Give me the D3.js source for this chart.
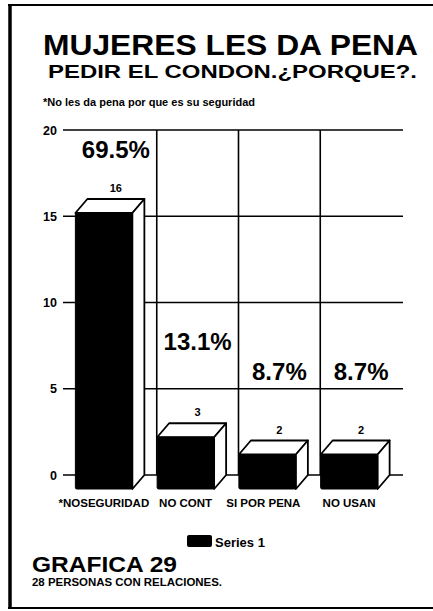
<!DOCTYPE html>
<html>
<head>
<meta charset="utf-8">
<script src="https://cdn.jsdelivr.net/npm/d3@7"></script>
<style>
html,body{margin:0;padding:0;background:#fff;}
svg{display:block;}
text{font-family:"Liberation Sans",Arial,Helvetica,sans-serif;font-weight:bold;fill:#000;}
</style>
</head>
<body>
<svg id="chart" width="433" height="611"></svg>
<script>
// ---- data ----
const categories = ["*NOSEGURIDAD", "NO CONT", "SI POR PENA", "NO USAN"];
const values = [16, 3, 2, 2];
const percentLabels = ["69.5%", "13.1%", "8.7%", "8.7%"];
const percentLevel = [18.4, 7.25, 5.5, 5.5]; // value level where percent annotation sits
const yTicks = [0, 5, 10, 15, 20];
const titleLine1 = "MUJERES LES DA PENA";
const titleLine2 = "PEDIR EL CONDON.¿PORQUE?.";
const noteText = "*No les da pena por que es su seguridad";
const seriesName = "Series 1";
const footTitle = "GRAFICA 29";
const footNote = "28 PERSONAS CON RELACIONES.";

const svg = d3.select("#chart");

// frame
svg.append("line").attr("x1",8).attr("x2",433).attr("y1",5).attr("y2",5).attr("stroke","#000").attr("stroke-width",2);
svg.append("line").attr("x1",10).attr("x2",10).attr("y1",4).attr("y2",609).attr("stroke","#000").attr("stroke-width",3.5);
svg.append("line").attr("x1",8).attr("x2",433).attr("y1",608).attr("y2",608).attr("stroke","#000").attr("stroke-width",2);

// titles
svg.append("text").attr("x",43).attr("y",54.5).attr("font-size",29)
  .attr("textLength",375).attr("lengthAdjust","spacingAndGlyphs").text(titleLine1);
svg.append("text").attr("x",48).attr("y",77.5).attr("font-size",19)
  .attr("textLength",369).attr("lengthAdjust","spacingAndGlyphs").text(titleLine2);
svg.append("text").attr("x",43).attr("y",106).attr("font-size",10.5)
  .attr("textLength",212).attr("lengthAdjust","spacingAndGlyphs").text(noteText);

// scales
const y = d3.scaleLinear().domain([0,20]).range([475,130]);
const x = d3.scaleBand().domain(categories).range([75,402]).paddingInner(0).paddingOuter(0);
const bw = x.bandwidth();
const barW = 57;
const dx = 12, dy = 14; // 3D depth offset (front = back shifted by -dx,+dy)

// horizontal gridlines + ticks
const g = svg.append("g");
g.selectAll("line.h").data(yTicks).join("line")
  .attr("x1",63).attr("x2",403)
  .attr("y1",d=>y(d)).attr("y2",d=>y(d))
  .attr("stroke","#000").attr("stroke-width",1.4);
g.selectAll("text.yt").data(yTicks).join("text")
  .attr("x",57).attr("y",d=>y(d)+4.5).attr("text-anchor","end").attr("font-size",12.5)
  .text(d=>d);

// vertical dividers on back wall
g.selectAll("line.v").data(categories.slice(1)).join("line")
  .attr("x1",d=>x(d)).attr("x2",d=>x(d))
  .attr("y1",y(20)).attr("y2",y(0))
  .attr("stroke","#000").attr("stroke-width",1.6);

// bars
const bars = svg.append("g").selectAll("g.bar").data(categories).join("g");
bars.each(function(c,i){
  const gg = d3.select(this);
  const bl = x(c) + (bw - barW)/2;   // back-left
  const br = bl + barW;
  const bt = y(values[i]);
  const bb = y(0);
  const fl = bl - dx, fr = br - dx, ft = bt + dy, fb = bb + dy;
  // top face
  gg.append("path").attr("d",`M${fl},${ft}L${bl},${bt}L${br},${bt}L${fr},${ft}Z`)
    .attr("fill","#fff").attr("stroke","#000").attr("stroke-width",1.8).attr("stroke-linejoin","round");
  // side face
  gg.append("path").attr("d",`M${fr},${ft}L${br},${bt}L${br},${bb}L${fr},${fb}Z`)
    .attr("fill","#fff").attr("stroke","#000").attr("stroke-width",1.8).attr("stroke-linejoin","round");
  // front face
  gg.append("rect").attr("x",fl).attr("y",ft).attr("width",fr-fl).attr("height",fb-ft)
    .attr("rx",1.5).attr("fill","#000").attr("stroke","#000").attr("stroke-width",1);
  // value label
  gg.append("text").attr("x",(bl+br)/2).attr("y",bt-7).attr("text-anchor","middle")
    .attr("font-size",11).text(values[i]);
  // percent label
  gg.append("text").attr("x",x(c)+bw/2).attr("y",y(percentLevel[i])).attr("text-anchor","middle")
    .attr("font-size",24).text(percentLabels[i]);
  // category label
  gg.append("text").attr("x",x(c)+bw/2-dx-(i===2?4:0)).attr("y",507).attr("text-anchor","middle")
    .attr("font-size",11.5).text(c);
});

// legend
svg.append("rect").attr("x",187).attr("y",535).attr("width",25).attr("height",12).attr("rx",2).attr("fill","#000");
svg.append("text").attr("x",215).attr("y",546.5).attr("font-size",13).text(seriesName);

// footer
svg.append("text").attr("x",32).attr("y",571.5).attr("font-size",22)
  .attr("textLength",145).attr("lengthAdjust","spacingAndGlyphs").text(footTitle);
svg.append("text").attr("x",32).attr("y",586).attr("font-size",10.5)
  .attr("textLength",190).attr("lengthAdjust","spacingAndGlyphs").text(footNote);
</script>
</body>
</html>
